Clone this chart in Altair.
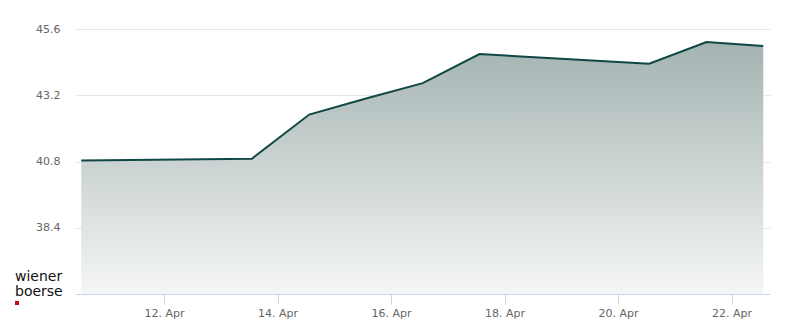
import altair as alt
import pandas as pd

dates = [
    "2025-04-10T13:00:00Z",
    "2025-04-13T13:10:00Z",
    "2025-04-14T13:25:00Z",
    "2025-04-15T13:25:00Z",
    "2025-04-16T13:25:00Z",
    "2025-04-17T13:25:00Z",
    "2025-04-20T13:10:00Z",
    "2025-04-21T13:25:00Z",
    "2025-04-22T13:25:00Z",
]
prices = [40.84, 40.90, 42.50, 43.08, 43.64, 44.69, 44.34, 45.13, 44.98]

y_ticks = [38.4, 40.8, 43.2, 45.6]
x_tick_days = [12, 14, 16, 18, 20, 22]
y_min = 36

df = pd.DataFrame({"date": dates, "price": prices})

x_enc = alt.X(
    "date:T",
    scale=alt.Scale(type="utc", domain=["2025-04-10T10:22:00Z", "2025-04-22T16:16:00Z"]),
    axis=alt.Axis(
        title=None,
        values=[alt.DateTime(year=2025, month=4, date=d, utc=True) for d in x_tick_days],
        format="%-d. %b",
        grid=False,
        domainColor="#ccd6eb",
        tickColor="#ccd6eb",
        tickSize=10,
        labelPadding=3,
        labelColor="#666666",
        labelFontSize=11,
        labelFont="DejaVu Sans",
    ),
)
y_enc = alt.Y(
    "price:Q",
    scale=alt.Scale(domain=[y_min, 45.6], nice=False, zero=False),
    axis=alt.Axis(
        title=None,
        values=y_ticks,
        format=".1f",
        grid=True,
        gridColor="#e6e6e6",
        domain=False,
        ticks=False,
        labelPadding=15,
        labelColor="#666666",
        labelFontSize=11,
        labelFont="DejaVu Sans",
    ),
)

base = alt.Chart(df)
area = base.mark_area(
    color=alt.Gradient(
        gradient="linear",
        x1=0, x2=0, y1=0, y2=1,
        stops=[
            alt.GradientStop(offset=0, color="#a3b3b1"),
            alt.GradientStop(offset=1, color="#f5f6f6"),
        ],
    ),
    clip=True,
).encode(x=x_enc, y=y_enc, y2=alt.datum(y_min))
line = base.mark_line(color="#0e4744", strokeWidth=2, clip=True).encode(x="date:T", y="price:Q")

logo = alt.Chart(pd.DataFrame({"a": [1]})).mark_text(
    align="left", baseline="alphabetic", font="DejaVu Sans", fontSize=14,
    color="#111111", lineHeight=15, text=["wiener", "boerse"],
).encode(x=alt.value(-60), y=alt.value(252))
red = alt.Chart(pd.DataFrame({"a": [1]})).mark_rect(color="#d0021b").encode(
    x=alt.value(-60), x2=alt.value(-56), y=alt.value(272), y2=alt.value(276)
)

chart = alt.layer(area, line, logo, red).properties(
    width=695,
    height=265,
    autosize=alt.AutoSizeParams(type="none"),
    padding={"left": 75, "top": 29, "right": 30, "bottom": 30},
).configure_view(stroke=None)

chart.save("out.html", embed_options={"renderer": "svg", "actions": False})
